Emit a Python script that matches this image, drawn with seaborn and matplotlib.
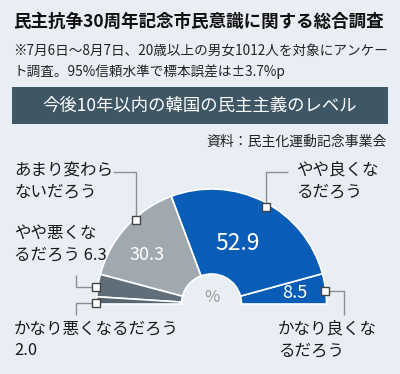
import matplotlib
matplotlib.use("Agg")
import matplotlib.pyplot as plt
import seaborn as sns
from matplotlib.patches import Rectangle

# ---- data ----
categories = ["かなり良くなるだろう", "やや良くなるだろう", "あまり変わらないだろう",
              "やや悪くなるだろう", "かなり悪くなるだろう"]
values = [8.5, 52.9, 30.3, 6.3, 2.0]
value_labels = ["8.5", "52.9", "30.3", "", ""]
title = "民主抗争30周年記念市民意識に関する総合調査"
subtitle1 = "※7月6日～8月7日、20歳以上の男女1012人を対象にアンケー"
subtitle2 = "ト調査。95%信頼水準で標本誤差は±3.7%p"
header = "今後10年以内の韓国の民主主義のレベル"
source = "資料：民主化運動記念事業会"

sns.set_style("white")
plt.rcParams["font.family"] = ["Noto Sans CJK JP", "DejaVu Sans"]

BG = "#e9eef4"
BLUE = "#0a5db7"
colors = [BLUE, BLUE, "#a1a9b0", "#5f6e79", "#566570"]

W, H = 400, 374
fig = plt.figure(figsize=(W / 100, H / 100), dpi=100, facecolor=BG)
ax = fig.add_axes([0, 0, 1, 1])
ax.set_xlim(0, W)
ax.set_ylim(0, H)
ax.set_aspect("equal")
ax.axis("off")
ax.set_facecolor(BG)

def Y(y):
    return H - y

# half donut
cx, cy, R, r_in = 211.5, 304, 115, 30
total = sum(values)
wedges, _ = ax.pie(values + [total], colors=colors + ["none"], startangle=0,
                   counterclock=True, center=(cx, Y(cy)), radius=R,
                   wedgeprops=dict(width=R - r_in, edgecolor="white", linewidth=1.2))
wedges[-1].set_edgecolor("none")
ax.set_xlim(0, W)
ax.set_ylim(0, H)

# texts
ax.text(13, Y(22), title, fontsize=12.6, fontweight="bold", va="center", ha="left", color="#111111")
ax.text(13, Y(51), subtitle1, fontsize=9.8, va="center", ha="left", color="#222222")
ax.text(13, Y(72), subtitle2, fontsize=9.8, va="center", ha="left", color="#222222")
ax.add_patch(Rectangle((12, Y(124)), 376, 37, facecolor="#3f5765", edgecolor="none"))
ax.text(200, Y(105.5), header, fontsize=12.5, color="white", va="center", ha="center")
ax.text(387, Y(142), source, fontsize=10, va="center", ha="right", color="#222222")

# value labels
ax.text(147, Y(255), value_labels[2], fontsize=13, color="white", ha="center", va="center")
ax.text(238, Y(243), value_labels[1], fontsize=16.5, color="white", ha="center", va="center")
ax.text(295, Y(293), value_labels[0], fontsize=13, color="white", ha="center", va="center")
ax.text(212, Y(297), "%", fontsize=12, color="#999999", ha="center", va="center")

lab_kw = dict(fontsize=11.9, color="#1a1a1a", ha="left", va="center", linespacing=1.35)
ax.text(14, Y(181), "あまり変わら\nないだろう", **lab_kw)
ax.text(14, Y(244), "やや悪くな\nるだろう " + f"{values[3]}", **lab_kw)
ax.text(14, Y(340), "かなり悪くなるだろう\n" + f"{values[4]}", **lab_kw)
ax.text(296, Y(181), "やや良くな\nるだろう", **lab_kw)
ax.text(278, Y(340), "かなり良くな\nるだろう", **lab_kw)

LC = "#8a8f94"
def leader(xs, ys):
    ax.plot(xs, [Y(v) for v in ys], color=LC, lw=1, solid_capstyle="butt")
    ax.plot([xs[-1]], [Y(ys[-1])], marker="s", ms=6, mfc="white", mec="#444444", mew=1, zorder=5)

leader([113, 136, 136], [172, 172, 220])
leader([76, 76, 96], [275, 287, 287])
leader([76, 76, 96], [315, 303, 303])
leader([288, 266, 266], [172, 172, 207])
leader([344, 344, 325], [315, 291, 291])

fig.savefig("out.png", dpi=100, facecolor=BG)
